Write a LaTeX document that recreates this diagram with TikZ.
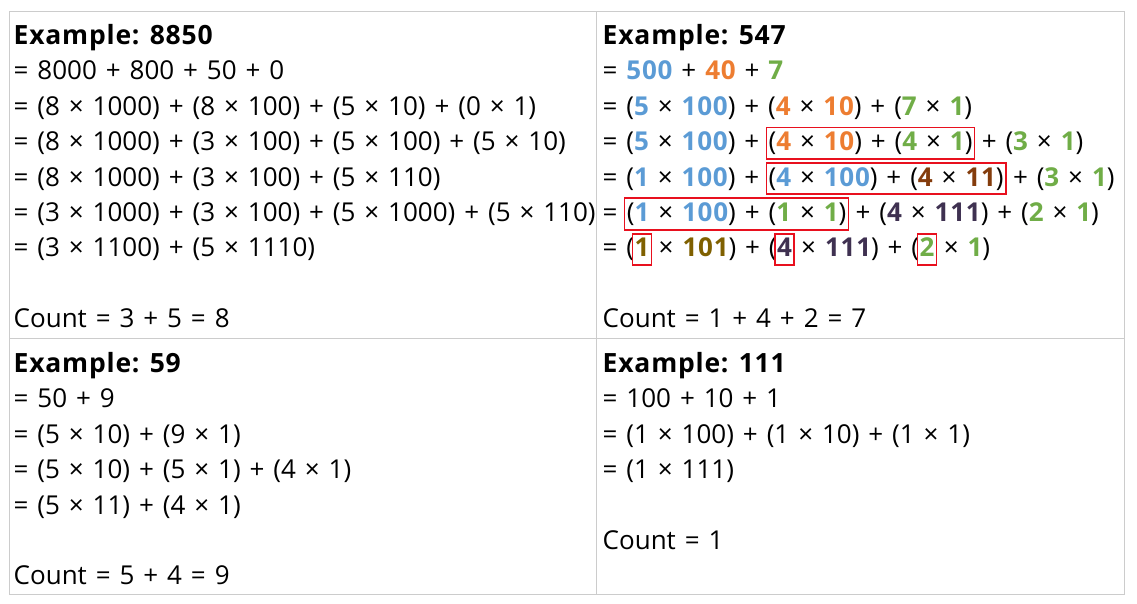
\documentclass[tikz,border=0pt]{standalone}
\usepackage{fontspec}
\setmainfont{Open Sans}[WordSpace=1.32, BoldFeatures={WordSpace=1.0, LetterSpace=3}]
\usetikzlibrary{positioning,fit}
\definecolor{numblue}{HTML}{5B9BD5}
\definecolor{numorange}{HTML}{ED7D31}
\definecolor{numgreen}{HTML}{70AD47}
\definecolor{numbrown}{HTML}{843C0C}
\definecolor{numgold}{HTML}{7F6000}
\definecolor{numpurple}{HTML}{3F3151}
\definecolor{gridgray}{HTML}{CCCCCC}
\definecolor{boxred}{HTML}{E8101E}
\newcommand\num[2]{{\bfseries\color{#1}#2}}
\newcommand\wsp{\kern\fontdimen2\font}
\tikzset{
	row/.style={anchor=base west, inner sep=0pt, font=\fontsize{26}{30}\selectfont},
	head/.style={row, font=\fontsize{26.5}{30}\selectfont\bfseries},
	boxed/.style={row, text height=21pt, text depth=6pt},
	redbox/.style={draw=boxred, line width=1.6pt, inner xsep=2pt, inner ysep=2pt},
	grid/.style={draw=gridgray, line width=1pt}
}
\begin{document}
\begin{tikzpicture}[x=1pt, y=-1pt]
	\useasboundingbox (0,0) rectangle (1137,604);
	\draw[grid] (9.5,11.5) rectangle (1124.5,594.5);
	\draw[grid] (596.5,11.5) -- (596.5,594.5);
	\draw[grid] (9.5,338.5) -- (1124.5,338.5);

	% top left: 8850
	\node[head] (a0) at (13.5,44.5) {Example: 8850};
	\node[row] (a1) at (13.5,79.9) {= 8000 + 800 + 50 + 0};
	\node[row] (a2) at (13.5,115.3) {= (8 × 1000) + (8 × 100) + (5 × 10) + (0 × 1)};
	\node[row] (a3) at (13.5,150.7) {= (8 × 1000) + (3 × 100) + (5 × 100) + (5 × 10)};
	\node[row] (a4) at (13.5,186.1) {= (8 × 1000) + (3 × 100) + (5 × 110)};
	\node[row] (a5) at (13.5,221.5) {= (3 × 1000) + (3 × 100) + (5 × 1000) + (5 × 110)};
	\node[row] (a6) at (13.5,256.9) {= (3 × 1100) + (5 × 1110)};
	\node[row] (a8) at (13.5,327.7) {Count = 3 + 5 = 8};

	% top right: 547
	\node[head] (b0) at (602.5,44.5) {Example: 547};
	\node[row] (b1) at (602.5,79.9) {= \num{numblue}{500} + \num{numorange}{40} + \num{numgreen}{7}};
	\node[row] (b2) at (602.5,115.3) {= (\num{numblue}{5} × \num{numblue}{100}) + (\num{numorange}{4} × \num{numorange}{10}) + (\num{numgreen}{7} × \num{numgreen}{1})};
	\node[row] (b3a) at (602.5,150.7) {= (\num{numblue}{5} × \num{numblue}{100}) +\wsp};
	\node[boxed, base right=0pt of b3a] (b3b) {(\num{numorange}{4} × \num{numorange}{10}) + (\num{numgreen}{4} × \num{numgreen}{1})};
	\node[row, base right=0pt of b3b] (b3c) {\wsp+ (\num{numgreen}{3} × \num{numgreen}{1})};
	\node[row] (b4a) at (602.5,186.1) {= (\num{numblue}{1} × \num{numblue}{100}) +\wsp};
	\node[boxed, base right=0pt of b4a] (b4b) {(\num{numblue}{4} × \num{numblue}{100}) + (\num{numbrown}{4} × \num{numbrown}{11})};
	\node[row, base right=0pt of b4b] (b4c) {\wsp+ (\num{numgreen}{3} × \num{numgreen}{1})};
	\node[row] (b5a) at (602.5,221.5) {=\wsp};
	\node[boxed, base right=0pt of b5a] (b5b) {(\num{numblue}{1} × \num{numblue}{100}) + (\num{numgreen}{1} × \num{numgreen}{1})};
	\node[row, base right=0pt of b5b] (b5c) {\wsp+ (\num{numpurple}{4} × \num{numpurple}{111}) + (\num{numgreen}{2} × \num{numgreen}{1})};
	\node[row] (b6a) at (602.5,256.9) {= (};
	\node[boxed, base right=0pt of b6a] (b6b) {\num{numgold}{1}};
	\node[row, base right=0pt of b6b] (b6c) {\wsp× \num{numgold}{101}) + (};
	\node[boxed, base right=0pt of b6c] (b6d) {\num{numpurple}{4}};
	\node[row, base right=0pt of b6d] (b6e) {\wsp× \num{numpurple}{111}) + (};
	\node[boxed, base right=0pt of b6e] (b6f) {\num{numgreen}{2}};
	\node[row, base right=0pt of b6f] (b6g) {\wsp× \num{numgreen}{1})};
	\node[row] (b8) at (602.5,327.7) {Count = 1 + 4 + 2 = 7};

	\node[redbox, fit=(b3b)] {};
	\node[redbox, fit=(b4b)] {};
	\node[redbox, fit=(b5b)] {};
	\node[redbox, fit=(b6b)] {};
	\node[redbox, fit=(b6d)] {};
	\node[redbox, fit=(b6f)] {};

	% bottom left: 59
	\node[head] (c0) at (13.5,372.5) {Example: 59};
	\node[row] (c1) at (13.5,407.9) {= 50 + 9};
	\node[row] (c2) at (13.5,443.3) {= (5 × 10) + (9 × 1)};
	\node[row] (c3) at (13.5,478.7) {= (5 × 10) + (5 × 1) + (4 × 1)};
	\node[row] (c4) at (13.5,514.1) {= (5 × 11) + (4 × 1)};
	\node[row] (c6) at (13.5,584.9) {Count = 5 + 4 = 9};

	% bottom right: 111
	\node[head] (d0) at (602.5,372.5) {Example: 111};
	\node[row] (d1) at (602.5,407.9) {= 100 + 10 + 1};
	\node[row] (d2) at (602.5,443.3) {= (1 × 100) + (1 × 10) + (1 × 1)};
	\node[row] (d3) at (602.5,478.7) {= (1 × 111)};
	\node[row] (d5) at (602.5,549.5) {Count = 1};
\end{tikzpicture}
\end{document}
